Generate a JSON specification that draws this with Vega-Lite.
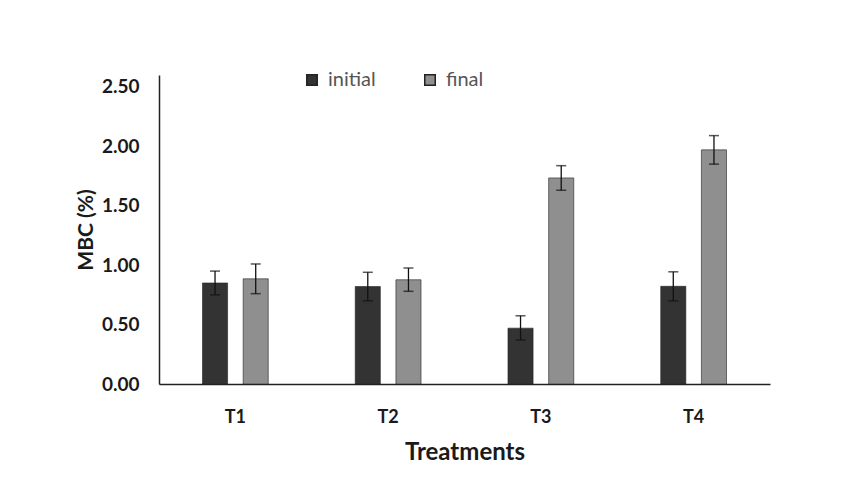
{
  "$schema": "https://vega.github.io/schema/vega-lite/v6.json",
  "width": 611,
  "height": 309,
  "autosize": "none",
  "padding": {"left": 159, "top": 75, "right": 79, "bottom": 96},
  "background": "white",
  "config": {
    "view": {"stroke": null},
    "font": "Lato",
    "axis": {"labelFont": "Lato", "titleFont": "Lato", "labelColor": "#1a1a1a", "titleColor": "#1a1a1a", "grid": false, "ticks": false, "domainColor": "#222222", "domainWidth": 1.5, "labelFontWeight": "bold", "titleFontWeight": "bold"},
    "axisX": {"labelFontSize": 18, "labelPadding": 24, "titleFontSize": 24, "titlePadding": 14, "labelAngle": 0},
    "axisY": {"labelFontSize": 19, "labelPadding": 20, "titleFontSize": 21, "titlePadding": 5}
  },
  "data": {
    "values": [
      {"treatment": "T1", "series": "initial", "value": 0.85, "lo": 0.75, "hi": 0.95},
      {"treatment": "T1", "series": "final", "value": 0.885, "lo": 0.76, "hi": 1.01},
      {"treatment": "T2", "series": "initial", "value": 0.82, "lo": 0.70, "hi": 0.94},
      {"treatment": "T2", "series": "final", "value": 0.877, "lo": 0.78, "hi": 0.976},
      {"treatment": "T3", "series": "initial", "value": 0.47, "lo": 0.37, "hi": 0.574},
      {"treatment": "T3", "series": "final", "value": 1.734, "lo": 1.63, "hi": 1.837},
      {"treatment": "T4", "series": "initial", "value": 0.822, "lo": 0.70, "hi": 0.944},
      {"treatment": "T4", "series": "final", "value": 1.97, "lo": 1.85, "hi": 2.09}
    ]
  },
  "encoding": {
    "x": {
      "field": "treatment", "type": "nominal", "sort": ["T1", "T2", "T3", "T4"],
      "scale": {"paddingInner": 0.54, "paddingOuter": 0.27},
      "axis": {"title": "Treatments"}
    },
    "xOffset": {"field": "series", "type": "nominal", "sort": ["initial", "final"], "scale": {"paddingInner": 0.383, "paddingOuter": 0.055}}
  },
  "layer": [
    {
      "mark": {"type": "bar", "stroke": "#222222", "strokeWidth": 0.6},
      "encoding": {
        "y": {
          "field": "value", "type": "quantitative",
          "scale": {"domain": [0, 2.5]},
          "axis": {"title": "MBC (%)", "values": [0, 0.5, 1, 1.5, 2, 2.5], "format": ".2f"}
        },
        "color": {
          "field": "series", "type": "nominal",
          "scale": {"domain": ["initial", "final"], "range": ["#333333", "#8f8f8f"]},
          "legend": {"title": null, "orient": "none", "legendX": 143, "legendY": -5, "direction": "horizontal", "symbolType": "square", "symbolSize": 110, "labelFontSize": 20, "labelColor": "#555555", "columnPadding": 44, "labelOffset": 6}
        }
      }
    },
    {
      "mark": {"type": "rule", "color": "#111111", "strokeWidth": 1.3},
      "encoding": {"y": {"field": "lo", "type": "quantitative"}, "y2": {"field": "hi"}}
    },
    {
      "mark": {"type": "tick", "color": "#111111", "size": 10, "thickness": 1.5},
      "encoding": {"y": {"field": "hi", "type": "quantitative"}}
    },
    {
      "mark": {"type": "tick", "color": "#111111", "size": 10, "thickness": 1.5},
      "encoding": {"y": {"field": "lo", "type": "quantitative"}}
    }
  ]
}
